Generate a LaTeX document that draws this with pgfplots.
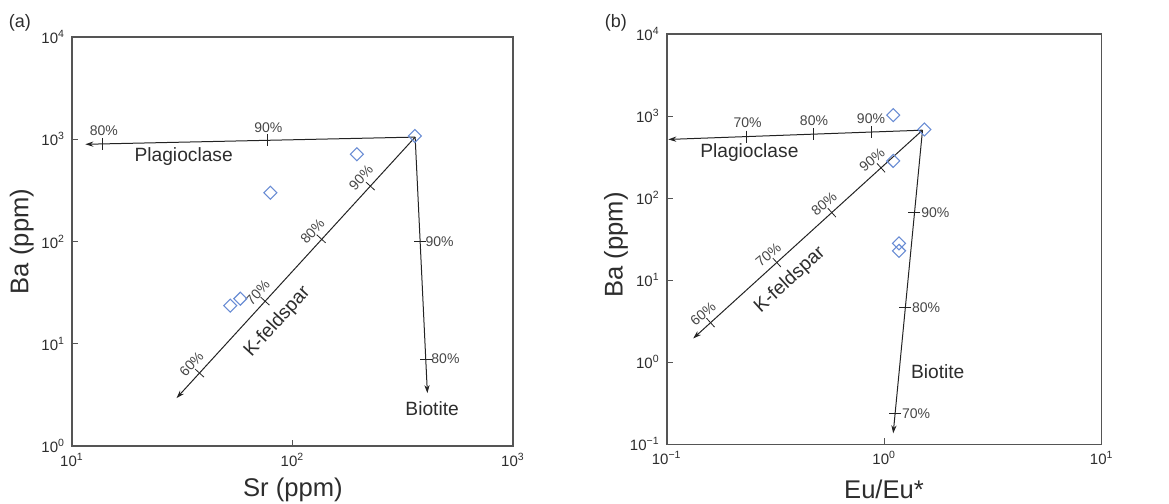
\documentclass[border=0pt]{standalone}
\usepackage{fontspec}
\setmainfont{Liberation Sans}
\usepackage{pgfplots}
\pgfplotsset{compat=1.18}
\usetikzlibrary{arrows.meta}
\definecolor{axgray}{RGB}{85,85,85}
\definecolor{linec}{RGB}{35,35,35}
\definecolor{txtc}{RGB}{45,45,45}
\definecolor{pctc}{RGB}{70,70,70}
\definecolor{diam}{RGB}{105,140,212}
\pgfplotsset{
  myax/.style={
    scale only axis, clip=false,
    axis line style={draw=axgray, line width=0.8pt},
    tick align=inside, xtick pos=left, ytick pos=left,
    xminorticks=false, yminorticks=false,
    major tick length=3pt,
    every tick/.style={axgray, line width=0.5pt},
    tick label style={font=\fontsize{7.5}{9}\selectfont, text=txtc},
    label style={font=\fontsize{12.8}{15}\selectfont, text=txtc},
  },
  trend/.style={linec, line width=0.5pt, -{Stealth[length=4pt,width=2.6pt]}},
  tk/.style={linec, only marks, mark size=3pt, mark options={line width=0.45pt}},
  pts/.style={only marks, mark=square, mark size=2.3pt, mark options={rotate=45, draw=diam, line width=0.55pt, fill=none}},
}
\tikzset{
  pct/.style={font=\fontsize{7}{8}\selectfont, text=pctc, inner sep=0pt},
  ann/.style={font=\fontsize{9.6}{11}\selectfont, text=txtc, inner sep=0pt},
}
\begin{document}
\begin{tikzpicture}
\path[use as bounding box] (0pt,0pt) rectangle (584.5pt,-252pt);

% ---------------- (a) ----------------
\begin{loglogaxis}[myax, at={(36pt,-223pt)}, anchor=south west,
  width=220.5pt, height=204.5pt,
  xmin=10, xmax=1000, ymin=1, ymax=10000,
  xtick={10,100,1000},
  xticklabels={10\textsuperscript{1},10\textsuperscript{2},10\textsuperscript{3}},
  ytick={1,10,100,1000,10000},
  yticklabels={10\textsuperscript{0},10\textsuperscript{1},10\textsuperscript{2},10\textsuperscript{3},10\textsuperscript{4}},
  xlabel={Sr (ppm)}, ylabel={Ba (ppm)},
  xlabel style={at={(axis description cs:0.501,-0.1076)}, anchor=center},
  ylabel style={at={(axis description cs:-0.114,0.5)}, anchor=center},
]
% Plagioclase
\addplot[trend] coordinates {(360,1050) (11.5,893)};
\addplot[tk, mark=|] coordinates {(13.8,902) (76.7,977)};
% K-feldspar
\addplot[trend] coordinates {(360,1050) (29.8,2.94)};
\addplot[tk, mark=|, mark options={rotate=47.7}] coordinates {(37.9,5.16) (75.1,26.1) (134.9,106.3) (225.5,348)};
% Biotite
\addplot[trend] coordinates {(360,1050) (409,3.29)};
\addplot[tk, mark=-] coordinates {(379,100.7) (403,7.08)};
% samples
\addplot[pts] coordinates {(359,1077) (196,713) (79.4,300) (52.2,23.6) (58,27.6)};

\node[pct] at (axis cs:13.96,1225) {80\%};
\node[pct] at (axis cs:77.8,1312) {90\%};
\node[ann] at (axis cs:32.1,681) {Plagioclase};
\node[ann, rotate=47.7] at (axis cs:85.5,16.4) {K-feldspar};
\node[ann] at (axis cs:430,2.31) {Biotite};
\node[pct, anchor=west] at (axis cs:400,100) {90\%};
\node[pct, anchor=west] at (axis cs:425,7.08) {80\%};
\node[pct, rotate=47.7] at (axis cs:34.8,6.32) {60\%};
\node[pct, rotate=47.7] at (axis cs:69.5,31.6) {70\%};
\node[pct, rotate=47.7] at (axis cs:123.2,126) {80\%};
\node[pct, rotate=47.7] at (axis cs:204.7,421) {90\%};
\node[font=\fontsize{9}{10}\selectfont, text=txtc] at (rel axis cs:-0.118,1.034) {(a)};
\end{loglogaxis}

% ---------------- (b) ----------------
\begin{loglogaxis}[myax, at={(333.35pt,-222.15pt)}, anchor=south west,
  width=217.5pt, height=205.15pt,
  xmin=0.1, xmax=10, ymin=0.1, ymax=10000,
  xtick={0.1,1,10},
  xticklabels={10\textsuperscript{−1},10\textsuperscript{0},10\textsuperscript{1}},
  ytick={0.1,1,10,100,1000,10000},
  yticklabels={10\textsuperscript{−1},10\textsuperscript{0},10\textsuperscript{1},10\textsuperscript{2},10\textsuperscript{3},10\textsuperscript{4}},
  xlabel={Eu/Eu*}, ylabel={Ba (ppm)},
  xlabel style={at={(axis description cs:0.4996,-0.111)}, anchor=center},
  ylabel style={at={(axis description cs:-0.1166,0.486)}, anchor=center},
]
% Plagioclase
\addplot[trend] coordinates {(1.50,673) (0.1017,519)};
\addplot[tk, mark=|] coordinates {(0.233,562) (0.471,602) (0.876,638)};
% K-feldspar
\addplot[trend] coordinates {(1.50,673) (0.1324,1.95)};
\addplot[tk, mark=|, mark options={rotate=42.2}] coordinates {(0.159,3.04) (0.321,16.4) (0.574,66.7) (0.967,234)};
% Biotite
\addplot[trend] coordinates {(1.50,673) (1.10,0.136)};
\addplot[tk, mark=-] coordinates {(1.378,66.2) (1.251,4.67) (1.122,0.239)};
% samples
\addplot[pts] coordinates {(1.10,1026) (1.53,687) (1.10,284) (1.17,28.1) (1.17,22.8)};

\node[pct] at (axis cs:0.2355,835) {70\%};
\node[pct] at (axis cs:0.4755,875) {80\%};
\node[pct] at (axis cs:0.8695,935) {90\%};
\node[ann] at (axis cs:0.2399,360) {Plagioclase};
\node[ann, rotate=42.2] at (axis cs:0.369,10.05) {K-feldspar};
\node[ann] at (axis cs:1.762,0.766) {Biotite};
\node[pct, rotate=40] at (axis cs:0.147,3.94) {60\%};
\node[pct, rotate=40] at (axis cs:0.293,20.2) {70\%};
\node[pct, rotate=40] at (axis cs:0.529,84.5) {80\%};
\node[pct, rotate=40] at (axis cs:0.879,296) {90\%};
\node[pct, anchor=west] at (axis cs:1.476,66.2) {90\%};
\node[pct, anchor=west] at (axis cs:1.338,4.67) {80\%};
\node[pct, anchor=west] at (axis cs:1.204,0.239) {70\%};
\node[font=\fontsize{9}{10}\selectfont, text=txtc] at (rel axis cs:-0.1166,1.027) {(b)};
\end{loglogaxis}
\end{tikzpicture}
\end{document}
